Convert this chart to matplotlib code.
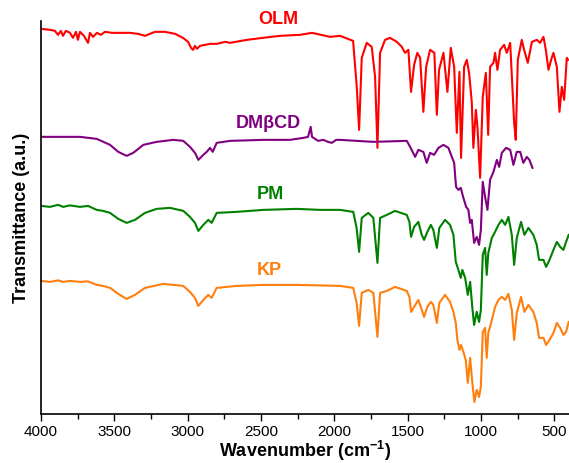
import matplotlib
matplotlib.use("Agg")
import matplotlib.pyplot as plt
from matplotlib.ticker import MultipleLocator

plt.rcParams['font.family'] = ['Liberation Sans', 'DejaVu Sans']

# spectra: wavenumber (cm-1) and transmittance (a.u., offset)
olm_wn = [4000, 3939, 3905, 3884, 3864, 3850, 3830, 3802, 3782, 3761, 3748, 3734, 3707, 3679,
          3666, 3645, 3618, 3591, 3564, 3516, 3461, 3393, 3338, 3291, 3257, 3223, 3154, 3086,
          3032, 2997, 2977, 2963, 2950, 2936, 2916, 2881, 2847, 2800, 2745, 2711, 2595, 2486,
          2370, 2234, 2152, 2029, 1961, 1872, 1847, 1831, 1813, 1779, 1745, 1722, 1706, 1688,
          1654, 1620, 1574, 1540, 1518, 1495, 1477, 1456, 1434, 1415, 1393, 1374, 1347, 1318,
          1301, 1286, 1256, 1229, 1206, 1183, 1165, 1147, 1136, 1115, 1097, 1081, 1063, 1052,
          1035, 1024, 1006, 988, 967, 951, 938, 915, 904, 888, 870, 842, 824, 801, 786, 774,
          763, 749, 722, 706, 681, 653, 619, 597, 574, 558, 540, 522, 506, 483, 465, 449, 433,
          415, 406]
olm_t = [3.85, 3.84, 3.83, 3.79, 3.83, 3.78, 3.83, 3.81, 3.76, 3.82, 3.74, 3.82, 3.78, 3.71,
         3.81, 3.77, 3.81, 3.79, 3.82, 3.81, 3.81, 3.81, 3.80, 3.78, 3.80, 3.82, 3.82, 3.80,
         3.76, 3.72, 3.66, 3.64, 3.68, 3.65, 3.68, 3.69, 3.70, 3.70, 3.72, 3.71, 3.74, 3.76,
         3.78, 3.79, 3.81, 3.77, 3.78, 3.73, 3.27, 2.84, 3.56, 3.71, 3.67, 3.37, 2.66, 3.61,
         3.74, 3.76, 3.72, 3.67, 3.61, 3.64, 3.22, 3.49, 3.61, 3.56, 3.02, 3.47, 3.64, 3.61,
         2.99, 3.44, 3.61, 3.22, 3.66, 3.47, 2.81, 3.42, 2.56, 3.47, 3.54, 3.41, 3.12, 2.66,
         3.04, 2.87, 2.36, 3.17, 3.41, 2.79, 3.47, 3.51, 3.61, 3.44, 3.64, 3.69, 3.61, 3.71,
         3.27, 2.91, 2.74, 3.54, 3.74, 3.64, 3.51, 3.72, 3.74, 3.71, 3.77, 3.64, 3.44, 3.54,
         3.61, 3.47, 3.02, 3.27, 3.14, 3.56, 3.54]

dmbcd_wn = [4000, 3734, 3620, 3529, 3473, 3416, 3371, 3302, 3211, 3098, 3030, 2984, 2950, 2927,
            2893, 2870, 2847, 2829, 2802, 2711, 2484, 2302, 2211, 2179, 2161, 2152, 2111, 2075,
            2043, 2017, 1988, 1961, 1734, 1506, 1483, 1449, 1427, 1393, 1370, 1347, 1320, 1290,
            1256, 1222, 1199, 1183, 1170, 1154, 1138, 1120, 1101, 1086, 1074, 1063, 1047, 1029,
            1013, 1001, 988, 972, 956, 938, 915, 892, 876, 858, 829, 801, 779, 756, 733, 711,
            688, 670, 649]
dmbcd_t = [2.77, 2.77, 2.75, 2.69, 2.62, 2.58, 2.61, 2.69, 2.72, 2.74, 2.73, 2.67, 2.61, 2.54,
           2.59, 2.62, 2.66, 2.62, 2.71, 2.73, 2.74, 2.74, 2.76, 2.77, 2.87, 2.77, 2.73, 2.74,
           2.72, 2.71, 2.74, 2.74, 2.72, 2.73, 2.67, 2.57, 2.64, 2.62, 2.51, 2.61, 2.59, 2.66,
           2.69, 2.66, 2.57, 2.51, 2.27, 2.24, 2.26, 2.16, 2.07, 2.04, 1.91, 1.94, 1.71, 1.77,
           1.69, 1.84, 2.32, 2.17, 2.04, 2.34, 2.42, 2.54, 2.47, 2.61, 2.66, 2.64, 2.49, 2.62,
           2.62, 2.51, 2.57, 2.54, 2.46]

pm_wn = [4000, 3939, 3884, 3848, 3802, 3734, 3679, 3620, 3577, 3529, 3473, 3416, 3359, 3291,
         3211, 3120, 3030, 2984, 2950, 2927, 2893, 2859, 2836, 2802, 2665, 2484, 2256, 2097,
         1961, 1871, 1848, 1831, 1813, 1768, 1734, 1706, 1688, 1642, 1586, 1506, 1488, 1477,
         1456, 1427, 1404, 1388, 1366, 1342, 1325, 1301, 1284, 1245, 1211, 1188, 1172, 1154,
         1138, 1127, 1108, 1090, 1074, 1059, 1047, 1029, 1013, 1001, 988, 972, 961, 950, 926,
         904, 881, 858, 835, 813, 790, 774, 756, 727, 704, 677, 643, 620, 604, 574, 556, 533,
         506, 483, 460, 438, 420, 402]
pm_t = [2.08, 2.07, 2.09, 2.07, 2.085, 2.07, 2.08, 2.04, 2.03, 2.01, 1.95, 1.91, 1.94, 2.01,
        2.05, 2.06, 2.03, 1.97, 1.91, 1.83, 1.89, 1.94, 1.91, 2.01, 2.02, 2.04, 2.05, 2.04,
        2.04, 2.02, 1.86, 1.62, 1.96, 2.01, 1.96, 1.51, 1.96, 1.99, 2.03, 1.99, 1.92, 1.77,
        1.87, 1.92, 1.79, 1.74, 1.82, 1.89, 1.84, 1.66, 1.86, 1.94, 1.89, 1.79, 1.52, 1.44,
        1.36, 1.44, 1.36, 1.19, 1.32, 1.06, 0.89, 1.02, 0.92, 1.04, 1.59, 1.66, 1.39, 1.61,
        1.76, 1.82, 1.89, 1.94, 1.89, 1.97, 1.79, 1.49, 1.76, 1.92, 1.79, 1.86, 1.79, 1.69,
        1.54, 1.54, 1.47, 1.54, 1.64, 1.72, 1.67, 1.64, 1.72, 1.79]

kp_wn = [4000, 3939, 3884, 3848, 3802, 3734, 3679, 3620, 3577, 3529, 3473, 3416, 3359, 3291,
         3166, 3030, 2984, 2950, 2927, 2893, 2859, 2836, 2802, 2665, 2484, 2256, 1961, 1871,
         1848, 1831, 1813, 1768, 1734, 1706, 1688, 1642, 1586, 1506, 1488, 1477, 1456, 1427,
         1404, 1388, 1366, 1342, 1325, 1301, 1284, 1245, 1211, 1188, 1172, 1161, 1147, 1136,
         1120, 1104, 1090, 1074, 1059, 1045, 1029, 1013, 1001, 988, 972, 961, 950, 926, 904,
         881, 858, 835, 813, 790, 774, 756, 727, 704, 677, 643, 620, 604, 574, 556, 533, 506,
         483, 460, 438, 420, 402]
kp_t = [1.33, 1.32, 1.335, 1.32, 1.33, 1.32, 1.325, 1.29, 1.28, 1.26, 1.20, 1.15, 1.19, 1.26,
        1.30, 1.28, 1.22, 1.16, 1.08, 1.14, 1.19, 1.16, 1.26, 1.28, 1.29, 1.29, 1.28, 1.26,
        1.11, 0.88, 1.21, 1.24, 1.21, 0.77, 1.21, 1.23, 1.27, 1.23, 1.17, 1.02, 1.07, 1.14,
        1.04, 0.97, 1.07, 1.12, 1.09, 0.91, 1.11, 1.19, 1.12, 1.02, 0.91, 0.74, 0.64, 0.69,
        0.62, 0.54, 0.31, 0.56, 0.31, 0.12, 0.24, 0.17, 0.27, 0.82, 0.86, 0.56, 0.81, 0.94,
        1.07, 1.14, 1.17, 1.14, 1.20, 1.04, 0.74, 1.01, 1.17, 1.02, 1.09, 1.02, 0.91, 0.76,
        0.76, 0.69, 0.74, 0.81, 0.91, 0.86, 0.79, 0.82, 0.92]

names = ['OLM', 'DM\u03b2CD', 'PM', 'KP']
colors = ['#ff0000', '#800080', '#008000', '#ff7f0e']
# where the sample names sit (wavenumber, a.u.)
label_pos = [(2380, 3.94), (2452, 2.905), (2435, 2.19), (2445, 1.43)]

fig = plt.figure(figsize=(5.69, 4.63), dpi=100)
ax = fig.add_axes([0.072, 0.106, 0.928, 0.849])

spectra = [(olm_wn, olm_t), (dmbcd_wn, dmbcd_t), (pm_wn, pm_t), (kp_wn, kp_t)]
for (wn, t), c, name, pos in zip(spectra, colors, names, label_pos):
    ax.plot(wn, t, color=c, lw=1.5)
    ax.text(pos[0], pos[1], name, color=c, fontsize=13, fontweight='bold',
            ha='center', va='center')

ax.set_xlim(4000, 400)
ax.set_ylim(0, 3.93)
ax.xaxis.set_minor_locator(MultipleLocator(250))
ax.set_xticks([4000, 3500, 3000, 2500, 2000, 1500, 1000, 500])
ax.set_yticks([])
ax.tick_params(axis='x', which='major', direction='out', length=5, width=1, labelsize=11, pad=3)
ax.tick_params(axis='x', which='minor', direction='out', length=3.5, width=1)

for s in ['top', 'right']:
    ax.spines[s].set_visible(False)
for s in ['left', 'bottom']:
    ax.spines[s].set_linewidth(1.2)

ax.set_xlabel('Wavenumber (cm$^{\\mathregular{-1}}$)', fontsize=13, fontweight='bold', labelpad=0)
ax.set_ylabel('Transmittance (a.u.)', fontsize=13, fontweight='bold', labelpad=8)

fig.savefig('out.png', dpi=100)
